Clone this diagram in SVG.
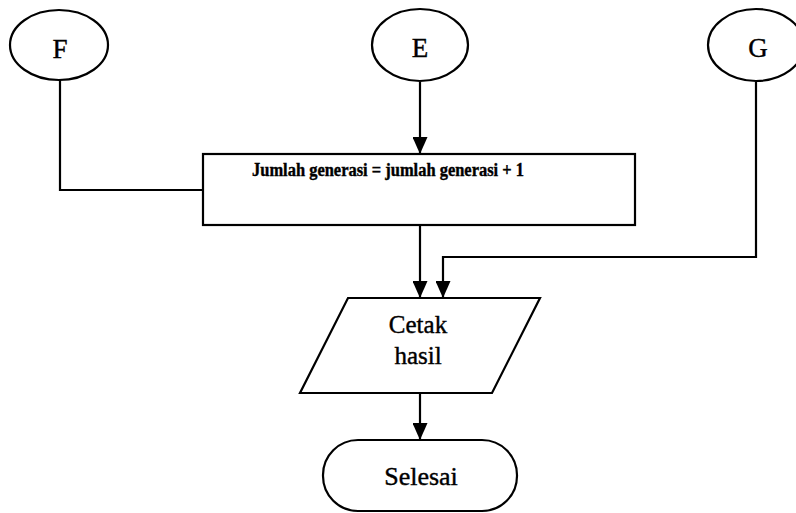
<svg xmlns="http://www.w3.org/2000/svg" width="796" height="513" viewBox="0 0 796 513">
  <style>
    .shape { fill: #fff; stroke: #000; stroke-width: 2.2; }
    .wire { fill: none; stroke: #000; stroke-width: 2.2; }
    .lbl { font-family: "Liberation Serif", "Times New Roman", serif; fill: #000; stroke: #000; stroke-width: 0.4; text-anchor: middle; }
  </style>
  <defs>
    <!-- solid triangular arrowhead, tip at the end of the line -->
    <marker id="head" markerWidth="17" markerHeight="15" refX="17" refY="7.5" orient="auto" markerUnits="userSpaceOnUse" viewBox="0 0 17 15">
      <path d="M0 0 L17 7.5 L0 15 Z" fill="#000"/>
    </marker>
  </defs>
  <rect width="796" height="513" fill="#fff"/>

  <g id="connectors">
    <path class="wire" d="M60 80 V190 H203"/>
    <path class="wire" d="M420 82 V154" marker-end="url(#head)"/>
    <path class="wire" d="M420 225 V298" marker-end="url(#head)"/>
    <path class="wire" d="M756 82 V257 H443 V298" marker-end="url(#head)"/>
    <path class="wire" d="M420 393 V440" marker-end="url(#head)"/>
  </g>

  <g id="node-F">
    <ellipse class="shape" cx="59" cy="45" rx="49" ry="35"/>
    <text class="lbl" x="60" y="58" font-size="27">F</text>
  </g>
  <g id="node-E">
    <ellipse class="shape" cx="420" cy="45" rx="48" ry="36"/>
    <text class="lbl" x="420" y="57" font-size="27">E</text>
  </g>
  <g id="node-G">
    <ellipse class="shape" cx="756" cy="45" rx="48" ry="36"/>
    <text class="lbl" x="758" y="57" font-size="27">G</text>
  </g>
  <g id="node-proses">
    <rect class="shape" x="203" y="154" width="432" height="71"/>
    <text class="lbl" x="388" y="176" font-size="18" font-weight="bold" stroke-width="0.2" textLength="272" lengthAdjust="spacingAndGlyphs">Jumlah generasi = jumlah generasi + 1</text>
  </g>
  <g id="node-cetak">
    <polygon class="shape" points="348,298 540,298 492,393 300,393"/>
    <text class="lbl" x="418" y="333" font-size="25">Cetak</text>
    <text class="lbl" x="418" y="364" font-size="25">hasil</text>
  </g>
  <g id="node-selesai">
    <rect class="shape" x="323" y="440" width="194" height="71" rx="35" ry="35"/>
    <text class="lbl" x="421" y="485" font-size="26">Selesai</text>
  </g>
</svg>
